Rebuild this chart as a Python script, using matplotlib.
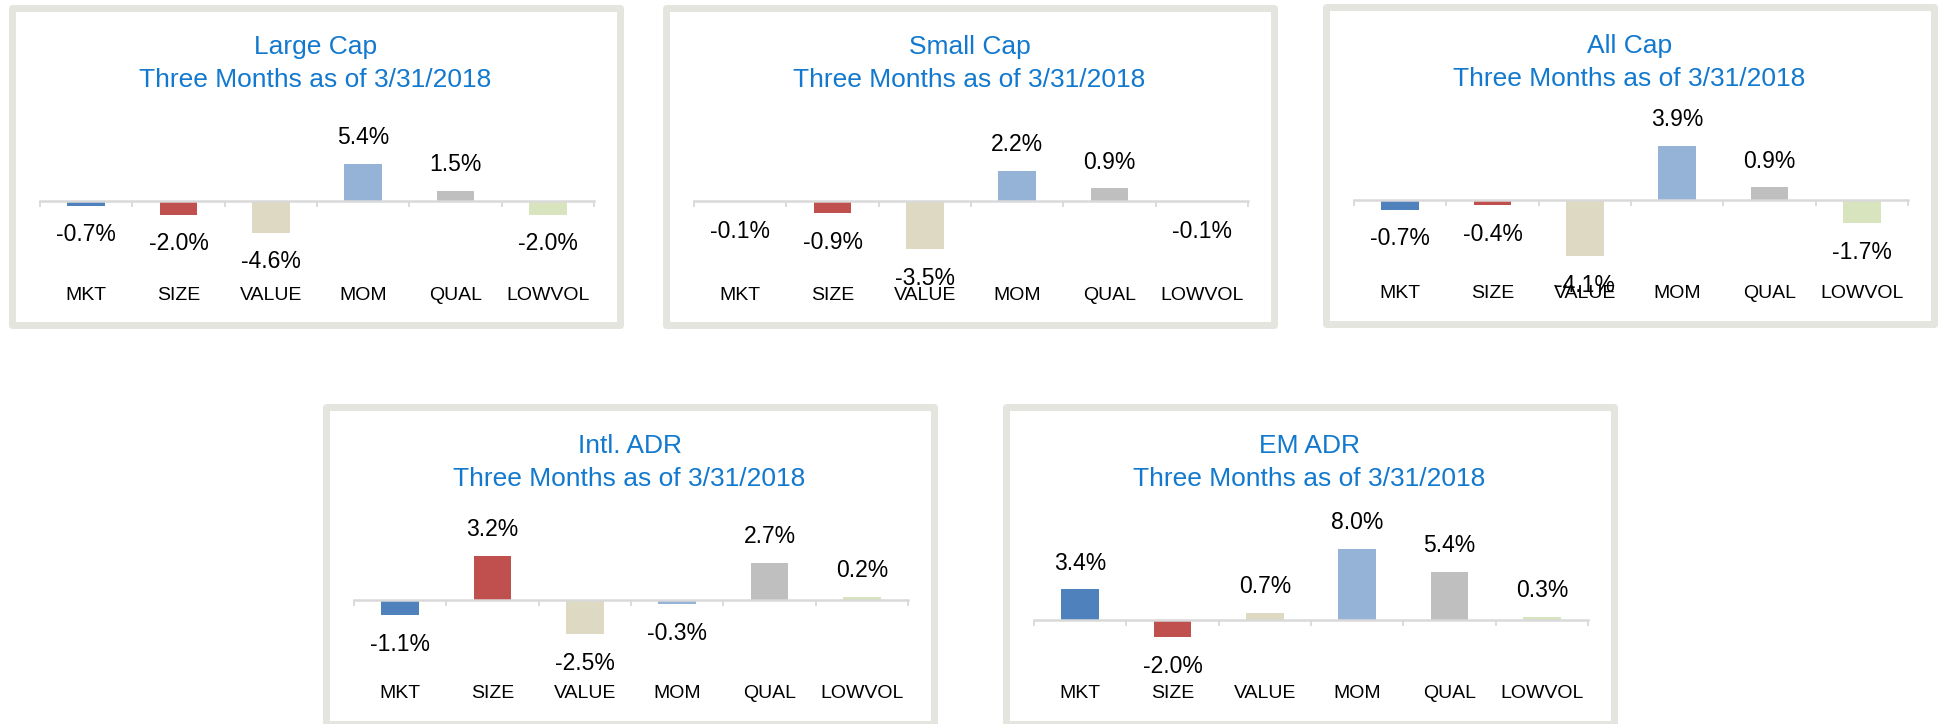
import numpy as np
import matplotlib
matplotlib.use('Agg')
import matplotlib.pyplot as plt
from matplotlib.patches import Rectangle
import matplotlib.transforms as mtransforms

plt.rcParams['font.family'] = ['Liberation Sans', 'DejaVu Sans']

# data
factors = ['MKT', 'SIZE', 'VALUE', 'MOM', 'QUAL', 'LOWVOL']
colors = ['#4f81bd', '#c0504d', '#ddd9c3', '#95b3d7', '#bfbfbf', '#d7e4bd']
subtitle = 'Three Months as of 3/31/2018'

titles = ['Large Cap', 'Small Cap', 'All Cap', 'Intl. ADR', 'EM ADR']
large_cap = [-0.7, -2.0, -4.6, 5.4, 1.5, -2.0]
small_cap = [-0.1, -0.9, -3.5, 2.2, 0.9, -0.1]
all_cap = [-0.7, -0.4, -4.1, 3.9, 0.9, -1.7]
intl_adr = [-1.1, 3.2, -2.5, -0.3, 2.7, 0.2]
em_adr = [3.4, -2.0, 0.7, 8.0, 5.4, 0.3]
series = [large_cap, small_cap, all_cap, intl_adr, em_adr]

# axis limits as Excel picked them
ylims = [(-8, 10), (-4, 5), (-4, 5), (-4, 5), (-4, 10)]

# frame positions (left, top) in pixels
W, H = 1942, 724
frames = [(8, 4), (662, 4), (1322, 3), (322, 403), (1002, 403)]
FW, FH = 615, 324
BORDER = 7
title_color = '#1279cf'
frame_color = '#e5e5e0'
axis_color = '#d9d9d9'

fig = plt.figure(figsize=(W / 100, H / 100), dpi=100)
fig.patch.set_facecolor('white')

for title, vals, ylim, (x0, y0) in zip(titles, series, ylims, frames):
    # outer frame (display pixels)
    rect = Rectangle((x0 + BORDER / 2, H - (y0 + FH - BORDER / 2)),
                     FW - BORDER, FH - BORDER,
                     transform=mtransforms.IdentityTransform(),
                     facecolor='white', edgecolor=frame_color,
                     linewidth=BORDER * 72 / 100, joinstyle='round', zorder=-1)
    fig.add_artist(rect)

    # titles
    cx = (x0 + FW / 2) / W
    fig.text(cx, 1 - (y0 + 43) / H, title, ha='center', va='center',
             fontsize=19, color=title_color)
    fig.text(cx, 1 - (y0 + 76) / H, subtitle, ha='center', va='center',
             fontsize=19, color=title_color)

    # plot area
    ax = fig.add_axes([(x0 + 32) / W, 1 - (y0 + 252) / H, 554 / W, 124 / H])
    ax.set_facecolor('none')
    x = np.arange(len(factors))
    ax.bar(x, vals, width=0.41, color=colors, clip_on=False, zorder=1)
    ax.set_xlim(-0.5, len(factors) - 0.5)
    ax.set_ylim(*ylim)

    for s in ['top', 'left', 'right']:
        ax.spines[s].set_visible(False)
    ax.spines['bottom'].set_position(('data', 0))
    ax.spines['bottom'].set_color(axis_color)
    ax.spines['bottom'].set_linewidth(1.8)
    ax.set_xticks([])
    ax.set_yticks([])
    ax.set_xticks(np.arange(-0.5, len(factors), 1), minor=True)
    ax.tick_params(axis='x', which='minor', length=4, width=1.3,
                   color=axis_color, direction='out')

    # data labels
    for i, v in enumerate(vals):
        off = 19 if v >= 0 else -21
        ax.annotate(f'{v:.1f}%', (i, v), xytext=(0, off),
                    textcoords='offset points', ha='center', va='center',
                    fontsize=16.5, color='black', annotation_clip=False)

    # category labels below the plot area
    for i, f in enumerate(factors):
        ax.text(i, -39 / 124, f, transform=ax.get_xaxis_transform(),
                ha='center', va='center', fontsize=14, color='black')

fig.savefig('out.png', dpi=100)
